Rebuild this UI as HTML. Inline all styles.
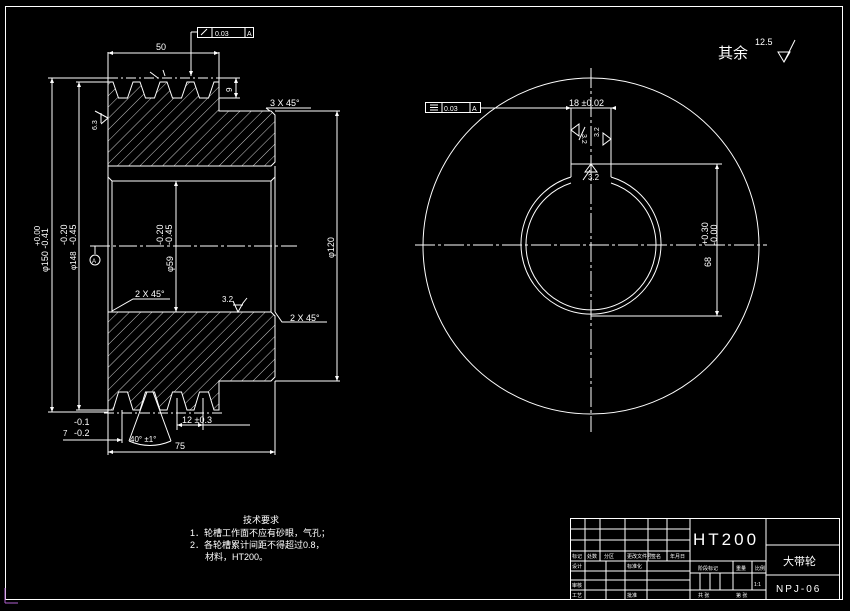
<!DOCTYPE html>
<html><head><meta charset="utf-8"><style>
html,body{margin:0;padding:0;background:#000;}
svg{display:block;}
text{font-family:"Liberation Sans","Noto Sans CJK SC",sans-serif;fill:#fff;}
</style></head><body>
<svg width="850" height="611" viewBox="0 0 850 611" xmlns="http://www.w3.org/2000/svg">
<defs>
<pattern id="h" width="8" height="8" patternUnits="userSpaceOnUse" patternTransform="rotate(45)">
<line x1="0" y1="0" x2="0" y2="8" stroke="#fff" stroke-width="0.8"/>
</pattern>
</defs>
<rect width="850" height="611" fill="#000"/>
<g fill="none" stroke="#fff" stroke-width="1">
<!-- frame -->
<rect x="5.5" y="6.5" width="837" height="593"/>
<!-- LEFT VIEW upper section -->
<path d="M108,82 L113,82 L118.5,98 L127.5,98 L133,82 L140,82 L145.5,98 L154.5,98 L160,82 L167,82 L172.5,98 L181.5,98 L187,82 L194,82 L199.5,98 L208.5,98 L214,82 L219,82 L219,111 L271,111 L275,115 L275,162 L271,166 L108,166 Z" fill="url(#h)"/>
<!-- lower section -->
<path d="M108,410 L113,410 L118.5,392 L127.5,392 L133,410 L140,410 L145.5,392 L154.5,392 L160,410 L167,410 L172.5,392 L181.5,392 L187,410 L194,410 L199.5,392 L208.5,392 L214,410 L219,410 L219,381 L271,381 L275,377 L275,316 L271,312 L108,312 Z" fill="url(#h)"/>
<!-- left edge and bore -->
<line x1="108" y1="78" x2="108" y2="414"/>
<path d="M108,166 L108,312"/>
<path d="M112,181 L271,181 L271,312 M112,181 L112,312 M108,177 L112,181 M275,177 L271,181"/>
<line x1="275" y1="166" x2="275" y2="312"/>
<line x1="108" y1="78" x2="219" y2="78" stroke-dasharray="10,3,2,3"/>
<line x1="104" y1="413" x2="222" y2="413" stroke-dasharray="10,3,2,3"/>
<!-- centre line -->
<line x1="92" y1="246" x2="297" y2="246" stroke-dasharray="18,3,3,3"/>
<!-- dim 50 -->
<line x1="108" y1="52" x2="108" y2="78"/><line x1="219" y1="52" x2="219" y2="111"/>
<line x1="108" y1="53" x2="219" y2="53"/>
<!-- FCF top -->
<rect x="197.5" y="27.5" width="56" height="10"/>
<line x1="212" y1="27.5" x2="212" y2="37.5"/><line x1="245" y1="27.5" x2="245" y2="37.5"/>
<line x1="197" y1="32" x2="191" y2="32"/><line x1="191" y1="32" x2="191" y2="76"/>
<line x1="201" y1="35" x2="207" y2="29"/>
<!-- dim 9 -->
<line x1="219" y1="78" x2="240" y2="78"/><line x1="219" y1="98" x2="240" y2="98"/>
<line x1="236" y1="78" x2="236" y2="98"/>
<!-- phi150 -->
<line x1="48" y1="78" x2="108" y2="78"/><line x1="48" y1="412" x2="108" y2="412"/>
<line x1="52" y1="78" x2="52" y2="412"/>
<!-- phi148 -->
<line x1="76" y1="82" x2="108" y2="82"/><line x1="76" y1="410" x2="108" y2="410"/>
<line x1="79" y1="82" x2="79" y2="410"/>
<!-- phi59 -->
<line x1="176" y1="181" x2="176" y2="312"/>
<!-- phi120 -->
<line x1="275" y1="111" x2="340" y2="111"/><line x1="275" y1="381" x2="340" y2="381"/>
<line x1="337" y1="111" x2="337" y2="381"/>
<!-- 3x45 -->
<path d="M266,108 L270,111 M266,108 L311,108"/>
<!-- 2x45 left -->
<path d="M112,311 L133,299 L170,299"/>
<!-- 2x45 right -->
<path d="M275,312 L282,322 L327,322"/>
<!-- roughness 3.2 -->
<path d="M233,301 L238,312 L243,303 L247,298 M233,305 L243,305"/>
<!-- roughness 6.3 -->
<path d="M108,118 L95,111 M108,118 L101,124 M101,113 L101,123"/>
<!-- datum A -->
<line x1="90" y1="246" x2="100" y2="246"/><line x1="95" y1="246" x2="95" y2="254"/>
<circle cx="95" cy="260" r="5"/>
<!-- bottom dims -->
<line x1="108" y1="414" x2="108" y2="455"/><line x1="275" y1="381" x2="275" y2="455"/>
<line x1="108" y1="452" x2="275" y2="452"/>
<line x1="177" y1="398" x2="177" y2="430"/><line x1="203" y1="398" x2="203" y2="430"/>
<line x1="177" y1="425" x2="250" y2="425"/>
<line x1="122" y1="410" x2="122" y2="443"/>
<line x1="63" y1="440" x2="122" y2="440"/>
<path d="M147,392 L129,441 M153,392 L171,441 M129,441 Q150,450 171,441"/>
<!-- roughness on groove -->
<path d="M150,72 L158,78 M163,70 L165,76"/>
<!-- RIGHT VIEW -->
<circle cx="591" cy="246" r="168"/>
<path d="M571,177 A70,70 0 1 0 611,177"/>
<path d="M571,183 A65,65 0 1 0 611,183"/>
<path d="M571,177 L571,108 M611,177 L611,108 M571,164 L611,164"/>
<line x1="415" y1="245" x2="767" y2="245" stroke-dasharray="20,3,3,3"/>
<line x1="591" y1="68" x2="591" y2="432" stroke-dasharray="20,3,3,3"/>
<line x1="481" y1="108" x2="612" y2="108"/>
<rect x="425.5" y="102.5" width="55" height="10"/>
<line x1="442" y1="102.5" x2="442" y2="112.5"/><line x1="470" y1="102.5" x2="470" y2="112.5"/>
<path d="M430,105 L438,105 M430,107.5 L438,107.5 M430,110 L438,110"/>
<line x1="611" y1="164" x2="722" y2="164"/><line x1="591" y1="316" x2="722" y2="316"/>
<line x1="717" y1="164" x2="717" y2="316"/>
<path d="M585,172 L591,164 L597,172 Z M583,180 L590,170"/>
<path d="M571,130 L579,124 L579,136 Z M585,127 L579,140"/>
<path d="M611,139 L603,133 L603,145 Z"/>
<!-- 其余 symbol -->
<path d="M778,52 L784,62 L790,52 Z M784,62 L795,40"/>
<!-- title block -->
<rect x="570.5" y="518.5" width="269" height="81"/>
<line x1="690" y1="518" x2="690" y2="600"/>
<line x1="766" y1="518" x2="766" y2="600"/>
<path d="M570,529 H690 M570,540 H690 M570,551 H690 M570,561 H766 M570,571 H690 M570,580 H690 M570,590 H766 M690,573 H766 M766,545 H840 M766,575 H840"/>
<path d="M585,518 V600 M600,518 V561 M625,518 V600 M648,518 V561 M667,518 V561 M647,561 V600 M606,561 V600"/>
<path d="M733,561 V590 M752,561 V590 M700,573 V590 M710,573 V590 M720,573 V590"/>
<!-- axis icon -->
<path d="M5,603 V588 M5,603 H18" stroke="#b060d0"/>
</g>
<g fill="#fff" stroke="none">
<path d="M108,53 l5,-2 v4z M219,53 l-5,-2 v4z M52,78 l-2,5 h4z M52,412 l-2,-5 h4z M79,82 l-2,5 h4z M79,410 l-2,-5 h4z M176,181 l-2,5 h4z M176,312 l-2,-5 h4z M337,111 l-2,5 h4z M337,381 l-2,-5 h4z M108,452 l5,-2 v4z M275,452 l-5,-2 v4z M236,78 l-2,5 h4z M236,98 l-2,-5 h4z M717,164 l-2,5 h4z M717,316 l-2,-5 h4z M571,108 l-5,-2 v4z M611,108 l5,-2 v4z M191,76 l-2,-5 h4z M177,425 l5,-2 v4z M203,425 l-5,-2 v4z M122,440 l-5,-2 v4z"/>
</g>
<g font-size="9">
<text x="156" y="50">50</text>
<text x="215" y="36" font-size="7">0.03</text><text x="247" y="36" font-size="7">A</text>
<text x="270" y="106">3 X 45°</text>
<text x="135" y="297">2 X 45°</text>
<text x="290" y="321">2 X 45°</text>
<text x="222" y="302" font-size="8">3.2</text>
<text x="182" y="423">12 ±0.3</text>
<text x="175" y="449">75</text>
<text x="74" y="425">-0.1</text>
<text x="63" y="436" font-size="8">7</text>
<text x="74" y="436">-0.2</text>
<text x="130" y="442" font-size="8">40° ±1°</text>
<text x="92" y="263" font-size="6">A</text>
<text transform="translate(232,92) rotate(-90)" font-size="8">9</text>
<text transform="translate(97,130) rotate(-90)" font-size="7">6.3</text>
<text transform="translate(48,272) rotate(-90)">φ150 -0.41</text>
<text transform="translate(40,246) rotate(-90)" font-size="8">+0.00</text>
<text transform="translate(76,270) rotate(-90)" font-size="8">φ148</text>
<text transform="translate(67,245) rotate(-90)">-0.20</text>
<text transform="translate(76,245) rotate(-90)">-0.45</text>
<text transform="translate(173,272) rotate(-90)">φ59</text>
<text transform="translate(163,245) rotate(-90)">-0.20</text>
<text transform="translate(172,245) rotate(-90)">-0.45</text>
<text transform="translate(334,258) rotate(-90)">φ120</text>
<text x="569" y="106">18 ±0.02</text>
<text x="444" y="111" font-size="7">0.03</text><text x="472" y="111" font-size="7">A</text>
<text x="588" y="180" font-size="8">3.2</text>
<text transform="translate(582,134) rotate(90)" font-size="7">3.2</text>
<text transform="translate(599,137) rotate(-90)" font-size="7">3.2</text>
<text transform="translate(711,267) rotate(-90)">68</text>
<text transform="translate(708,245) rotate(-90)">+0.30</text>
<text transform="translate(717,245) rotate(-90)">-0.00</text>
<text x="718" y="58" font-size="15">其余</text>
<text x="755" y="45" font-size="9">12.5</text>
<text x="243" y="523" font-size="9">技术要求</text>
<text x="190" y="536" font-size="9">1．轮槽工作面不应有砂眼，气孔；</text>
<text x="190" y="548" font-size="9">2．各轮槽累计间距不得超过0.8，</text>
<text x="205" y="560" font-size="9">材料，HT200。</text>
<text x="693" y="545" font-size="17" letter-spacing="3">HT200</text>
<text x="783" y="565" font-size="11">大带轮</text>
<text x="776" y="592" font-size="10" letter-spacing="2">NPJ-06</text>
<g font-size="5">
<text x="572" y="558">标记</text><text x="587" y="558">处数</text><text x="604" y="558">分区</text><text x="627" y="558">更改文件号</text><text x="651" y="558">签名</text><text x="670" y="558">年月日</text>
<text x="572" y="568">设计</text><text x="627" y="568">标准化</text>
<text x="572" y="587">审核</text><text x="572" y="597">工艺</text><text x="627" y="597">批准</text>
<text x="698" y="570">阶段标记</text><text x="736" y="570">重量</text><text x="755" y="570">比例</text>
<text x="754" y="586">1:1</text>
<text x="698" y="597">共 张</text><text x="736" y="597">第 张</text>
</g>
</g>
</svg>
</body></html>
